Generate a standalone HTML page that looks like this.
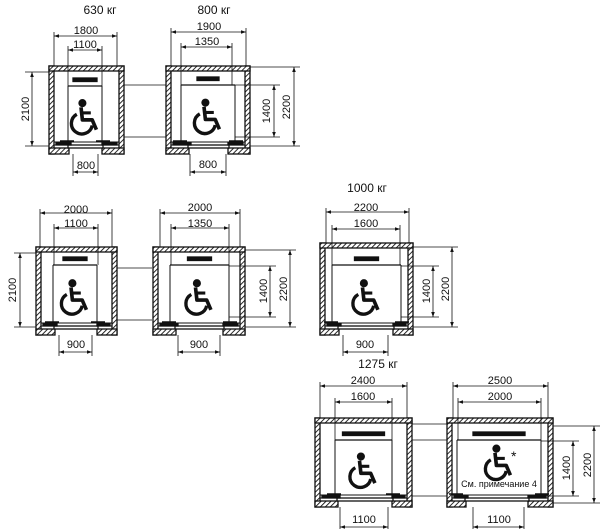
<!DOCTYPE html>
<html><head><meta charset="utf-8">
<style>
html,body{margin:0;padding:0;background:#fff;}
svg{display:block;}
text{font-family:"Liberation Sans",sans-serif;fill:#111;}
</style></head>
<body>
<svg id="s" width="605" height="529" viewBox="0 0 605 529" xmlns="http://www.w3.org/2000/svg">
<defs>
<pattern id="h" width="3.5" height="3.5" patternUnits="userSpaceOnUse" patternTransform="rotate(45)">
<rect width="3.5" height="3.5" fill="#fff"/><line x1="0" y1="0" x2="0" y2="3.5" stroke="#111" stroke-width="1.8"/>
</pattern>
<g id="wc0">
<circle cx="1" cy="-11" r="2.4" fill="#111"/>
<path d="M0,-8 L1,1 L8,1 L11,8" fill="none" stroke="#111" stroke-width="2.6" stroke-linejoin="round"/>
<path d="M1,-4 L7,-4" stroke="#111" stroke-width="2.2"/>
<path d="M-3,-3 A7.5,7.5 0 1 0 8,5" fill="none" stroke="#111" stroke-width="2.4"/>
</g>
<g id="wc"><use href="#wc0" transform="scale(1.4)"/></g>
</defs>
<g id="g" stroke="#111" fill="none" stroke-width="1"></g>
<g font-size="11">
<text x="100" y="14" text-anchor="middle" font-size="12">630 кг</text>
<text x="214" y="14" text-anchor="middle" font-size="12">800 кг</text>
<text x="367" y="192" text-anchor="middle" font-size="12">1000 кг</text>
<text x="378" y="368" text-anchor="middle" font-size="12">1275 кг</text>
<text x="86" y="34" text-anchor="middle">1800</text>
<text x="85" y="48" text-anchor="middle">1100</text>
<text x="86" y="169" text-anchor="middle">800</text>
<text x="209" y="30" text-anchor="middle">1900</text>
<text x="207" y="45" text-anchor="middle">1350</text>
<text x="208" y="168" text-anchor="middle">800</text>
<text x="76" y="213" text-anchor="middle">2000</text>
<text x="76" y="227" text-anchor="middle">1100</text>
<text x="76" y="348" text-anchor="middle">900</text>
<text x="200" y="211" text-anchor="middle">2000</text>
<text x="200" y="227" text-anchor="middle">1350</text>
<text x="199" y="348" text-anchor="middle">900</text>
<text x="366" y="211" text-anchor="middle">2200</text>
<text x="366" y="227" text-anchor="middle">1600</text>
<text x="365" y="348" text-anchor="middle">900</text>
<text x="363" y="384" text-anchor="middle">2400</text>
<text x="363" y="400" text-anchor="middle">1600</text>
<text x="364" y="523" text-anchor="middle">1100</text>
<text x="500" y="384" text-anchor="middle">2500</text>
<text x="500" y="400" text-anchor="middle">2000</text>
<text x="499" y="523" text-anchor="middle">1100</text>
<text x="499" y="487" text-anchor="middle" font-size="9">См. примечание 4</text>
<text x="511" y="461" font-size="14">*</text>
<text transform="translate(29,109) rotate(-90)" text-anchor="middle">2100</text>
<text transform="translate(270,111) rotate(-90)" text-anchor="middle">1400</text>
<text transform="translate(290,107) rotate(-90)" text-anchor="middle">2200</text>
<text transform="translate(16,290) rotate(-90)" text-anchor="middle">2100</text>
<text transform="translate(267,291) rotate(-90)" text-anchor="middle">1400</text>
<text transform="translate(287,289) rotate(-90)" text-anchor="middle">2200</text>
<text transform="translate(430,291) rotate(-90)" text-anchor="middle">1400</text>
<text transform="translate(449,289) rotate(-90)" text-anchor="middle">2200</text>
<text transform="translate(570,468) rotate(-90)" text-anchor="middle">1400</text>
<text transform="translate(591,465) rotate(-90)" text-anchor="middle">2200</text>
</g>
</svg>
<script>
var g=document.getElementById('g'),o='';
function L(a,b,c,d,w){o+='<line x1="'+a+'" y1="'+b+'" x2="'+c+'" y2="'+d+'"'+(w?' stroke-width="'+w+'"':'')+'/>';}
function R(x,y,w,h,f){o+='<rect x="'+x+'" y="'+y+'" width="'+w+'" height="'+h+'" fill="'+(f||'url(#h)')+'" stroke-width="1.3"/>';}
function ah(x,y,dx,dy){var p;if(dx)p=[x,y,x+dx*5,y-1.8,x+dx*5,y+1.8];else p=[x,y,x-1.8,y+dy*5,x+1.8,y+dy*5];o+='<polygon points="'+p.join(',')+'" fill="#111" stroke="none"/>';}
function hd(a,b,y,ey){L(a,y,b,y,0.8);ah(a,y,1,0);ah(b,y,-1,0);L(a,y-4,a,ey,0.8);L(b,y-4,b,ey,0.8);}
function hdb(a,b,y,ey){L(a,y,b,y,0.8);ah(a,y,1,0);ah(b,y,-1,0);L(a,ey,a,y+4,0.8);L(b,ey,b,y+4,0.8);}
function vd(x,a,b,e1,e2){L(x,a,x,b,0.8);ah(x,a,0,1);ah(x,b,0,-1);L(e1,a,e2,a,0.8);L(e1,b,e2,b,0.8);}
function E(l,r,t,b,gl,gr,cl,cr,ct,bw,fy){
 var w=5,sy=b-12;
 R(l,t,w,b-t);R(r-w,t,w,b-t);R(l,t,r-l,w);
 R(l,b-6,gl-l,6);R(gr,b-6,r-gr,6);
 L(l+w,sy,r-w,sy,1);L(l+w,sy+3,r-w,sy+3,1);
 R(gl-1,sy+3,gr-gl+2,3,'#fff');
 R(l+w+2,sy+0.5,gl-l-w,2.5,'#111');R(gr,sy+0.5,r-w-2-gr,2.5,'#111');
 var cx=(cl+cr)/2;
 R(cx-bw/2,ct-8,bw,3.5,'#111');
 L(cl,ct,cr,ct,1.2);L(cl,ct,cl,sy,1);L(cr,ct,cr,sy,1);
 L(cl-8,sy-1,cl+6,sy-1,1.5);L(cr-6,sy-1,cr+8,sy-1,1.5);
 o+='<use href="#wc" x="'+(cx-4)+'" y="'+(fy||(ct+(sy-ct)*0.58))+'"/>';
}
E(49,124,66,154,69,102,68,102,86,24);
E(166,250,66,154,189,228,181,235,85,22);
E(36,117,247,335,55,97,53,97,265,24);
E(153,245,247,335,176,223,170,229,265,24);
E(320,413,243,335,339,393,332,401,265,24);
E(315,412,418,507,338,392,335,392,440,42);
E(447,553,418,507,466,528,457,541,440,52,464);
hd(54,117,36,66);hd(68,102,50,86);vd(32,72,146,25,49);hdb(73,98,172,154);
hd(171,246,32,66);hd(181,232,47,85);vd(274,85,137,235,280);vd(294,67,146,250,300);hdb(190,226,172,154);
L(124,85,166,85,0.8);L(124,137,166,137,0.8);
hd(40,112,213,247);hd(54,98,228,265);vd(20,253,327,14,36);hdb(59,92,352,335);
L(117,268,152,268,0.8);L(117,320,152,320,0.8);
hd(160,240,213,247);hd(171,229,228,265);vd(270,266,317,229,276);vd(290,250,327,245,296);hdb(178,220,352,335);
hd(326,409,212,243);hd(332,400,229,265);vd(433,266,317,401,439);vd(452,247,327,413,458);hdb(343,388,352,335);
hd(320,407,386,418);hd(335,392,402,440);hdb(340,388,527,507);
hd(453,548,386,418);hd(458,541,402,440);vd(573,441,496,541,579);vd(594,426,503,553,600);hdb(473,524,527,507);
L(412,424,447,424,0.8);L(412,440,447,440,0.8);L(412,496,447,496,0.8);
g.innerHTML=o;
</script>
</body></html>
